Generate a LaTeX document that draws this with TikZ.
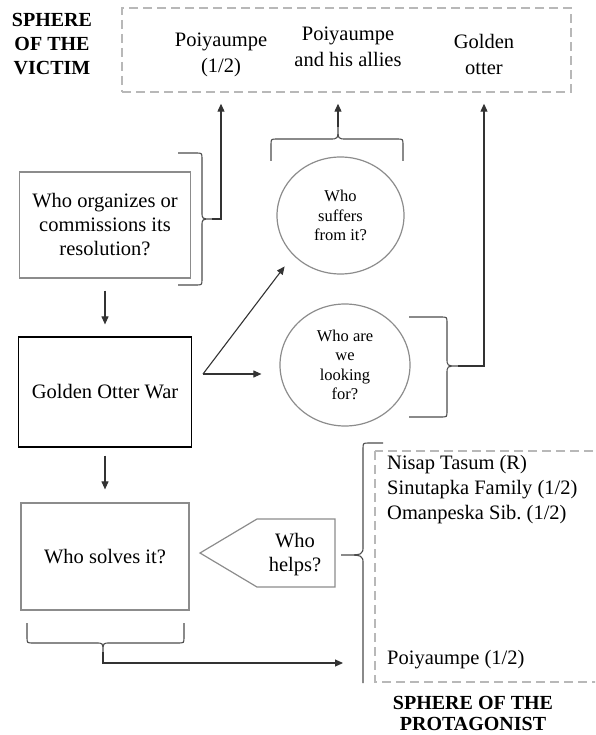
\documentclass[tikz,border=0pt]{standalone}
\usepackage{fontspec}
\setmainfont{Liberation Serif}
\usetikzlibrary{shapes.geometric,arrows.meta}

\begin{document}
\begin{tikzpicture}[x=1pt,y=-1pt,
    qbox/.style={draw=black!45,line width=1.2pt,align=center,inner sep=0pt,font=\fontsize{20.5}{24}\selectfont},
    qcircle/.style={ellipse,draw=black!45,line width=1.2pt,align=center,inner sep=0pt,font=\fontsize{16.5}{19.5}\selectfont},
    spherebox/.style={draw=black!28,line width=1.4pt,dash pattern=on 9pt off 5pt,inner sep=0pt},
    bracestroke/.style={draw=black!70,line width=1.1pt},
    conn/.style={draw=black!80,line width=1.1pt,-{Triangle[length=8pt,width=7pt]}},
    vtext/.style={align=center,inner sep=0pt,font=\fontsize{20.5}{26}\selectfont},
    spheretitle/.style={align=center,inner sep=0pt,font=\bfseries\fontsize{20}{24}\selectfont}]

    \clip (0,0) rectangle (595,735);

    % sphere of the victim
    \node[spheretitle] (victimtitle) at (52,44) {SPHERE\\OF THE\\VICTIM};
    \node[spherebox,minimum width=449pt,minimum height=84pt] (victim) at (346.5,50) {};
    \node[vtext] (v1) at (221,55) {Poiyaumpe\\(1/2)};
    \node[vtext] (v2) at (348,47) {Poiyaumpe\\and his allies};
    \node[vtext] (v3) at (484,54) {Golden\\otter};

    % questions
    \node[qbox,minimum width=171pt,minimum height=106pt] (org) at (105,225) {Who organizes or\\commissions its\\resolution?};
    \node[qbox,draw=black,minimum width=173pt,minimum height=110pt] (gow) at (105,392) {Golden Otter War};
    \node[qbox,minimum width=168pt,minimum height=107pt] (solves) at (105,556.5) {Who solves it?};
    \node[qcircle,minimum width=127pt,minimum height=117pt] (suffers) at (340.5,215.5) {Who\\suffers\\from it?};
    \node[qcircle,minimum width=130pt,minimum height=122pt] (looking) at (345,365) {Who are\\we\\looking\\for?};
    \draw[draw=black!45,line width=1.2pt] (200,553) -- (257,519) -- (335,519) -- (335,587) -- (257,587) -- cycle;
    \node[qbox,draw=none] (helps) at (295,555) {Who\\helps?};

    % sphere of the protagonist
    \draw[spherebox] (375,451) rectangle (610,682);
    \node[vtext,anchor=west,align=left,font=\fontsize{20.5}{25}\selectfont] (helpers) at (387,490) {Nisap Tasum (R)\\Sinutapka Family (1/2)\\Omanpeska Sib.\ (1/2)};
    \node[vtext,anchor=west] (p4) at (387,660) {Poiyaumpe (1/2)};
    \node[spheretitle,font=\bfseries\fontsize{20}{21}\selectfont] (prottitle) at (473,713) {SPHERE OF THE\\PROTAGONIST};

    % braces
    \coordinate (orgtip) at (212,219);
    \coordinate (suftip) at (338,127);
    \coordinate (looktip) at (458,366);
    \coordinate (soltip) at (103,652);
    \coordinate (fork) at (203,374);
    \coordinate (protin) at (343,663);

    \begin{scope}[bracestroke]
        \draw (178,153) -- (196,153) .. controls (202,153) .. (202,159) -- (202,212)
            .. controls (202,219) .. (orgtip) .. controls (202,219) .. (202,226)
            -- (202,279) .. controls (202,285) .. (196,285) -- (178,285);
        \draw (271,161) -- (271,145) .. controls (271,139) .. (277,139) -- (330,139)
            .. controls (338,139) .. (suftip) .. controls (338,139) .. (346,139)
            -- (397,139) .. controls (403,139) .. (403,145) -- (403,161);
        \draw (409,317) -- (441,317) .. controls (447,317) .. (447,323) -- (447,358)
            .. controls (447,366) .. (looktip) .. controls (447,366) .. (447,374)
            -- (447,411) .. controls (447,417) .. (441,417) -- (409,417);
        \draw (27,623) -- (27,637) .. controls (27,643) .. (33,643) -- (96,643)
            .. controls (103,643) .. (soltip) .. controls (103,643) .. (110,643)
            -- (178,643) .. controls (184,643) .. (184,637) -- (184,623);
        \draw (383,443) -- (369,443) .. controls (363,443) .. (363,449) -- (363,546)
            .. controls (363,555) .. (341,555) .. controls (363,555) .. (363,564) -- (363,683);
    \end{scope}

    % connectors
    \draw[conn,shorten <=12pt,shorten >=12pt] (org) -- (gow);
    \draw[conn,shorten <=8pt,shorten >=13pt] (gow) -- (solves);
    \draw[conn,shorten >=14pt] (fork) -- (suffers.-140);
    \draw[conn,shorten >=18pt] (fork) -- (fork -| looking.west);
    \draw[conn,shorten >=11pt] (orgtip) -| (v1 |- victim.south);
    \draw[conn,shorten >=11pt] (suftip) -- (suftip |- victim.south);
    \draw[conn,shorten >=11pt] (looktip) -| (v3 |- victim.south);
    \draw[conn] (soltip) |- (protin);
\end{tikzpicture}
\end{document}
